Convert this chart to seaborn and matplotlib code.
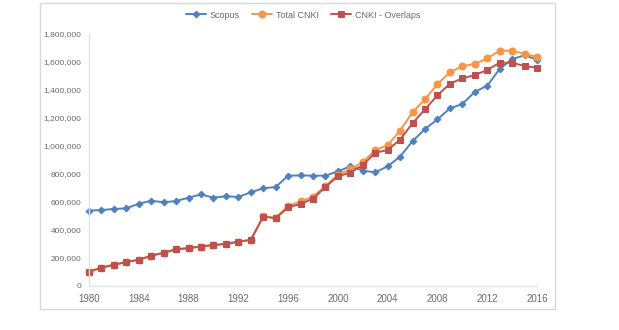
import matplotlib
matplotlib.use("Agg")
import matplotlib.pyplot as plt
from matplotlib.patches import Rectangle
from matplotlib.ticker import FuncFormatter
import seaborn as sns
import pandas as pd

years = list(range(1980, 2017))

scopus = [538000, 543000, 550000, 555000, 588000, 609000, 598000, 607000, 631000, 654000,
          631000, 641000, 636000, 669000, 698000, 707000, 788000, 790000, 788000, 788000,
          819000, 855000, 824000, 812000, 855000, 924000, 1035000, 1121000, 1190000, 1269000,
          1300000, 1386000, 1431000, 1550000, 1621000, 1648000, 1617000]

cnki_overlaps = [102000, 131000, 152000, 171000, 188000, 216000, 238000, 262000, 271000, 282000,
                 293000, 300000, 317000, 329000, 495000, 484000, 562000, 586000, 624000, 707000,
                 784000, 810000, 864000, 952000, 971000, 1046000, 1163000, 1262000, 1362000, 1445000,
                 1483000, 1507000, 1543000, 1595000, 1595000, 1571000, 1559000]

total_cnki = [102000, 131000, 152000, 171000, 188000, 216000, 238000, 262000, 271000, 282000,
              293000, 300000, 317000, 329000, 497000, 488000, 571000, 605000, 638000, 714000,
              795000, 833000, 886000, 971000, 1007000, 1110000, 1242000, 1333000, 1443000, 1526000,
              1571000, 1586000, 1626000, 1681000, 1681000, 1657000, 1638000]

series_names = ["Scopus", "Total CNKI", "CNKI - Overlaps"]
x_ticks = list(range(1980, 2017, 4))
y_ticks = list(range(0, 1800001, 200000))

df = pd.DataFrame({
    "year": years * 3,
    "value": scopus + total_cnki + cnki_overlaps,
    "series": [series_names[0]] * len(years) + [series_names[1]] * len(years)
              + [series_names[2]] * len(years),
})

sns.set_theme(style="white")
plt.rcParams["font.family"] = ["Liberation Sans", "DejaVu Sans"]

fig = plt.figure(figsize=(6.19, 3.30), dpi=100)
ax = fig.add_axes([89 / 619, 1 - 286 / 330, (537 - 89) / 619, (286 - 34) / 330])

styles = {
    "Scopus": dict(color="#4F81BD", marker="D", markersize=3.4),
    "Total CNKI": dict(color="#F79646", marker="o", markersize=5.0),
    "CNKI - Overlaps": dict(color="#C0504D", marker="s", markersize=5.0),
}

for name in series_names:
    sub = df[df["series"] == name]
    st = styles[name]
    sns.lineplot(data=sub, x="year", y="value", ax=ax, color=st["color"],
                 marker=st["marker"], markersize=st["markersize"],
                 markeredgecolor=st["color"], linewidth=1.4, label=name,
                 clip_on=False)

ax.set_xlim(1980, 2016)
ax.set_ylim(0, 1800000)
ax.set_xticks(x_ticks)
ax.set_yticks(y_ticks)
ax.yaxis.set_major_formatter(FuncFormatter(lambda v, p: f"{int(v):,}"))
ax.set_xlabel("")
ax.set_ylabel("")
ax.tick_params(axis="both", length=0, labelsize=6, labelcolor="#6b6b6b")
ax.tick_params(axis="x", pad=6)
ax.tick_params(axis="y", pad=5.5)
for lbl in ax.get_xticklabels():
    lbl.set_fontsize(7)

for side in ["top", "right"]:
    ax.spines[side].set_visible(False)
for side in ["left", "bottom"]:
    ax.spines[side].set_color("#e3e3e3")
    ax.spines[side].set_linewidth(1.0)
ax.grid(False)

handles, labels = ax.get_legend_handles_labels()
ax.get_legend().remove()
fig.legend(handles, labels, loc="center", bbox_to_anchor=(303 / 619, 1 - 15 / 330),
           ncol=3, frameon=False, fontsize=6.5, labelcolor="#6b6b6b",
           handlelength=2.2, columnspacing=1.4, handletextpad=0.4)

fig.patches.append(Rectangle((40 / 619, 1 - 309 / 330), (555 - 40) / 619, (309 - 3) / 330,
                             transform=fig.transFigure, fill=False,
                             edgecolor="#d9d9d9", linewidth=1.0))

fig.savefig("out.png", dpi=100)
